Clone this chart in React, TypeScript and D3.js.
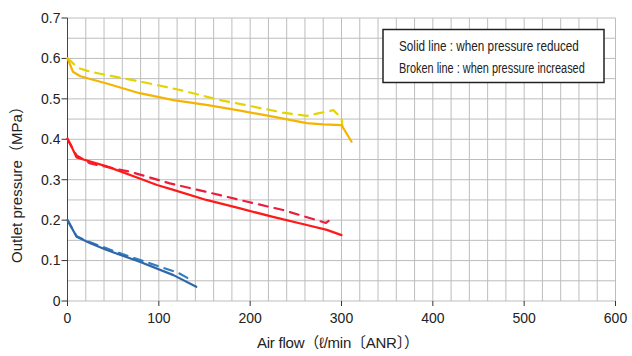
import React from "react";
import * as d3 from "d3";

const W = 632, H = 356;
const M = { left: 67.5, right: 615.5, top: 18, bottom: 301 };

const xTicks = [0, 100, 200, 300, 400, 500, 600];
const yTicks = [0, 0.1, 0.2, 0.3, 0.4, 0.5, 0.6, 0.7];
const yTickLabels = ["0", "0.1", "0.2", "0.3", "0.4", "0.5", "0.6", "0.7"];

// [flow, pressure]
const yellowSolid: [number, number][] = [
  [0, 0.6], [6, 0.567], [14, 0.556], [43, 0.538], [79, 0.514], [116, 0.497],
  [152, 0.485], [189, 0.471], [225, 0.456], [262, 0.44], [280, 0.437], [300, 0.435], [311, 0.394],
];
const yellowBroken: [number, number][] = [
  [0, 0.6], [12, 0.576], [25, 0.567], [90, 0.538], [123, 0.522], [167, 0.497],
  [203, 0.481], [236, 0.466], [262, 0.458], [291, 0.472], [300, 0.453], [301, 0.431],
];
const redSolid: [number, number][] = [
  [0, 0.402], [4.6, 0.381], [10, 0.355], [43, 0.333], [79, 0.303], [98, 0.287],
  [116, 0.275], [152, 0.25], [189, 0.229], [225, 0.208], [262, 0.188], [284, 0.176], [300, 0.163],
];
const redBroken: [number, number][] = [
  [0, 0.4], [10, 0.36], [25, 0.34], [68, 0.32], [112, 0.291], [152, 0.27],
  [196, 0.246], [236, 0.225], [273, 0.2], [283, 0.193], [290, 0.205],
];
const blueSolid: [number, number][] = [
  [0, 0.2], [10, 0.159], [25, 0.143], [43, 0.126], [79, 0.097], [116, 0.064], [141, 0.035],
];
const blueBroken: [number, number][] = [
  [0, 0.2], [10, 0.16], [25, 0.145], [60, 0.116], [101, 0.085], [121, 0.07], [137, 0.05],
];

const legendLines = ["Solid line : when pressure reduced", "Broken line : when pressure increased"];
const legendWidths = [180, 186];

const LEGEND_FONT = "15px 'Liberation Sans', Arial, sans-serif";

function measure(t: string): number {
  try {
    const c = document.createElement("canvas").getContext("2d");
    if (c) {
      c.font = LEGEND_FONT;
      return c.measureText(t).width;
    }
  } catch (e) {}
  return t.length * 7;
}

export default function App() {
  const x = d3.scaleLinear().domain([0, 600]).range([M.left, M.right]);
  const y = d3.scaleLinear().domain([0, 0.7]).range([M.bottom, M.top]);
  const line = d3.line<[number, number]>().x((d) => x(d[0])).y((d) => y(d[1]));

  const vGrid = d3.range(0, 601, 20);
  const hGrid = d3.range(0, 0.7001, 0.05);

  const series = [
    { d: yellowBroken, c: "#e3d400", dash: "9 7" },
    { d: yellowSolid, c: "#f5b400", dash: "" },
    { d: redBroken, c: "#ee1c3c", dash: "9 7" },
    { d: redSolid, c: "#ff1a1a", dash: "" },
    { d: blueBroken, c: "#2f7fc4", dash: "9 7" },
    { d: blueSolid, c: "#2f68a8", dash: "" },
  ];

  const font = "'Liberation Sans', Arial, 'Noto Sans CJK JP', sans-serif";

  return (
    <svg width={W} height={H} style={{ position: "absolute", left: 0, top: 0, background: "#fff" }}>
      <g>
        {vGrid.map((v) => (
          <line key={"v" + v} x1={x(v)} x2={x(v)} y1={M.top} y2={M.bottom} stroke="#bdbdbd" strokeWidth={1} />
        ))}
        {hGrid.map((v, i) => (
          <line key={"h" + i} x1={M.left} x2={M.right} y1={y(v)} y2={y(v)} stroke="#bdbdbd" strokeWidth={1} />
        ))}
      </g>
      <line x1={M.left} x2={M.left} y1={M.top} y2={M.bottom} stroke="#444" strokeWidth={1} />
      {yTicks.map((t, i) => (
        <g key={"yt" + i}>
          <line x1={M.left - 6} x2={M.left} y1={y(t)} y2={y(t)} stroke="#333" />
          <text x={M.left - 7} y={y(t)} dy="0.35em" textAnchor="end" fontFamily={font} fontSize={14} fill="#222">
            {yTickLabels[i]}
          </text>
        </g>
      ))}
      {xTicks.map((t) => (
        <g key={"xt" + t}>
          <line x1={x(t)} x2={x(t)} y1={M.bottom} y2={M.bottom + 5} stroke="#333" />
          <text x={x(t)} y={M.bottom + 22} textAnchor="middle" fontFamily={font} fontSize={14} fill="#222">
            {t}
          </text>
        </g>
      ))}
      <text
        x={338}
        y={348}
        textAnchor="middle"
        fontFamily={font}
        fontSize={15}
        fill="#222"
        textLength={162}
        lengthAdjust="spacing"
      >
        Air flow（ℓ/min〔ANR〕）
      </text>
      <text
        transform={`translate(22,181) rotate(-90)`}
        textAnchor="middle"
        fontFamily={font}
        fontSize={15}
        fill="#222"
        textLength={164}
        lengthAdjust="spacing"
      >
        Outlet pressure（MPa）
      </text>

      {series.map((s, i) => (
        <path
          key={"s" + i}
          d={line(s.d) || ""}
          fill="none"
          stroke={s.c}
          strokeWidth={2.2}
          strokeDasharray={s.dash || undefined}
          strokeLinejoin="round"
          strokeLinecap="round"
        />
      ))}

      <rect x={383} y={29.5} width={221} height={53} fill="#fff" stroke="#222" strokeWidth={1.5} />
      {legendLines.map((t, i) => {
        const k = legendWidths[i] / measure(t);
        return (
          <g key={"lg" + i} transform={`translate(399,${51 + i * 21.5}) scale(${k},1)`}>
            <text x={0} y={0} fontFamily="'Liberation Sans', Arial, sans-serif" fontSize={15} fill="#222">
              {t}
            </text>
          </g>
        );
      })}
    </svg>
  );
}
